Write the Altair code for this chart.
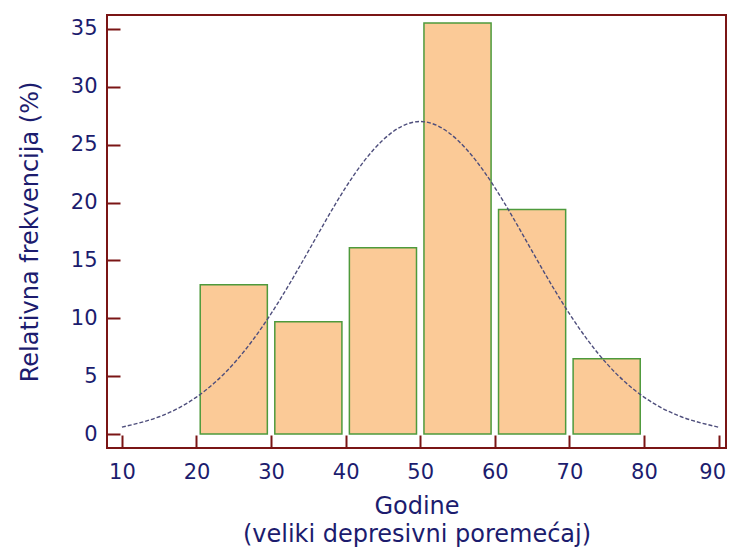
import altair as alt
import pandas as pd

# Histogram bins (age groups) and relative frequencies (%)
bin_start = [20, 30, 40, 50, 60, 70]
bin_end = [30, 40, 50, 60, 70, 80]
rel_freq = [12.9, 9.7, 16.1, 35.5, 19.4, 6.5]

# Fitted normal curve
curve_x = [10, 15, 20, 25, 30, 35, 40, 45, 50, 55, 60, 65, 70, 75, 80, 85, 90]
curve_y = [0.6, 1.5, 3.2, 6.1, 10.4, 15.8, 21.3, 25.4, 27.0, 25.4, 21.3, 15.8, 10.4, 6.1, 3.2, 1.5, 0.6]

x_ticks = [10, 20, 30, 40, 50, 60, 70, 80, 90]
y_ticks = [0, 5, 10, 15, 20, 25, 30, 35]

bars = pd.DataFrame({
    "start": [s + 0.5 for s in bin_start],
    "end": [e - 0.5 for e in bin_end],
    "freq": rel_freq,
})
curve = pd.DataFrame({"x": curve_x, "y": curve_y})

NAVY = "#1c1c6e"
RED = "#7a1515"
FONT = "DejaVu Sans"

x_scale = alt.Scale(domain=[8, 91], nice=False, zero=False)
y_scale = alt.Scale(domain=[-1.2, 36.2], nice=False, zero=False)

x_axis = alt.Axis(values=x_ticks, title=["Godine", "(veliki depresivni poremećaj)"],
                  offset=-13, tickSize=13, labelPadding=13, titlePadding=12,
                  titleLineHeight=28, labelFlush=10, labelFlushOffset=7)
y_axis = alt.Axis(values=y_ticks, title="Relativna frekvencija (%)",
                  offset=-13, tickSize=13, labelPadding=10, titlePadding=28)

bar_layer = alt.Chart(bars).mark_bar(
    color="#fbca97", stroke="#4e9a3c", strokeWidth=1.5
).encode(
    x=alt.X("start:Q", scale=x_scale, axis=x_axis),
    x2="end:Q",
    y=alt.Y("freq:Q", scale=y_scale, axis=y_axis),
    y2=alt.Y2(datum=0),
)

line_layer = alt.Chart(curve).mark_line(
    color="#4e4e7c", strokeWidth=1.4, strokeDash=[4, 2], interpolate="natural"
).encode(
    x=alt.X("x:Q", scale=x_scale),
    y=alt.Y("y:Q", scale=y_scale),
)

chart = alt.layer(bar_layer, line_layer).properties(
    width=619, height=433,
    autosize=alt.AutoSizeParams(type="none"),
    padding={"left": 99, "top": 7, "right": 1, "bottom": 99},
).configure_view(
    stroke=RED, strokeWidth=2
).configure_axis(
    domain=False, grid=False,
    tickColor=RED, tickWidth=2,
    labelColor=NAVY, labelFont=FONT, labelFontSize=21,
    titleColor=NAVY, titleFont=FONT, titleFontSize=24, titleFontWeight="normal",
)

chart.save("out.html", embed_options={"renderer": "svg", "actions": False})
